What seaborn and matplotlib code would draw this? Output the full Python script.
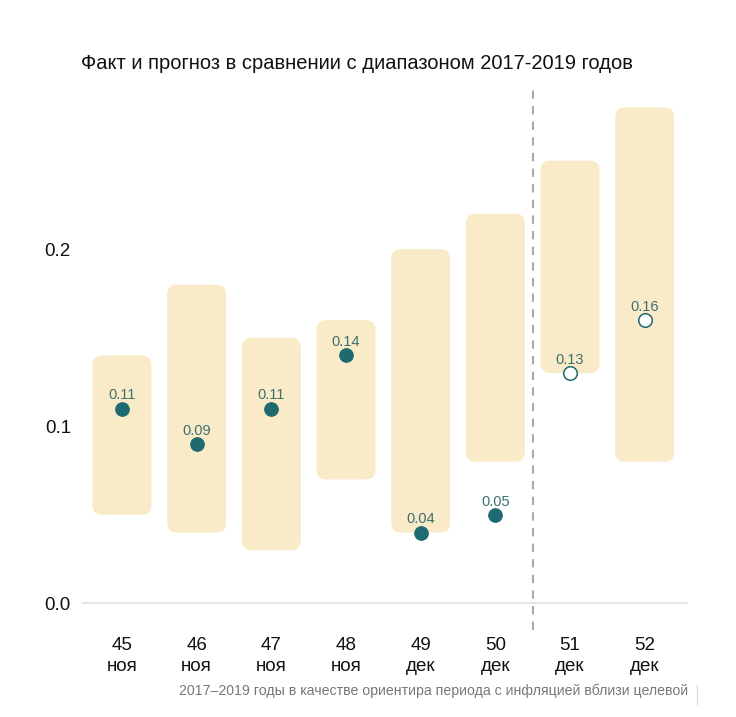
import matplotlib
matplotlib.use("Agg")
import matplotlib.pyplot as plt
from matplotlib.patches import FancyBboxPatch
from matplotlib.lines import Line2D
import seaborn as sns
import pandas as pd

weeks = ["45", "46", "47", "48", "49", "50", "51", "52"]
months = ["ноя", "ноя", "ноя", "ноя", "дек", "дек", "дек", "дек"]
range_low = [0.05, 0.04, 0.03, 0.07, 0.04, 0.08, 0.13, 0.08]
range_high = [0.14, 0.18, 0.15, 0.16, 0.20, 0.22, 0.25, 0.28]
fact = [0.11, 0.09, 0.11, 0.14, 0.04, 0.05]
forecast = [0.13, 0.16]

labels = [w + "\n" + m for w, m in zip(weeks, months)]
bars = pd.DataFrame({"week": labels, "low": range_low, "high": range_high})
bars["span"] = bars["high"] - bars["low"]
pts_fact = pd.DataFrame({"week": labels[:len(fact)], "val": fact})
pts_fc = pd.DataFrame({"week": labels[len(fact):], "val": forecast})

sns.set_style("white")
plt.rcParams["font.family"] = ["Liberation Sans", "DejaVu Sans"]

teal = "#1d6b70"
fig = plt.figure(figsize=(7.36, 7.17), dpi=100)
ax = fig.add_axes([0.1114, 0.1213, 0.8234, 0.756])

sns.barplot(data=bars, x="week", y="span", bottom=bars["low"], order=labels,
            color="#faebc8", width=0.79, errorbar=None, saturation=1, ax=ax)

# rounded corners
x_px = 74.7
y_px = 1770.0
for p in list(ax.patches):
    x, y, w, h = p.get_x(), p.get_y(), p.get_width(), p.get_height()
    r = 0.13
    fb = FancyBboxPatch((x + r, y + r * x_px / y_px), w - 2 * r, h - 2 * r * x_px / y_px,
                        boxstyle="round,pad=%f,rounding_size=%f" % (r, r),
                        mutation_aspect=x_px / y_px,
                        facecolor="#faebc8", edgecolor="none", zorder=1)
    p.remove()
    ax.add_patch(fb)

sns.scatterplot(data=pts_fact, x="week", y="val", color=teal, s=95,
                edgecolor=teal, linewidth=0.8, zorder=4, ax=ax)
sns.scatterplot(data=pts_fc, x="week", y="val", color="white", s=95,
                edgecolor=teal, linewidth=1.1, zorder=4, ax=ax)

for df in (pts_fact, pts_fc):
    for wk, v in zip(df["week"], df["val"]):
        ax.annotate("%.2f" % v, (labels.index(wk), v), xytext=(0, 4.5),
                    textcoords="offset points", ha="center", va="bottom",
                    fontsize=10.5, color="#3d7070", zorder=5)

ax.axhline(0, color="#e6e6e6", lw=1.5, zorder=0)
ax.axvline(5.5, color="#aaaaaa", lw=1.5, ls=(0, (4, 3.5)), zorder=2)

ax.set_xlim(-0.535, 7.58)
ax.set_ylim(-0.015, 0.291)
ax.set_yticks([0.0, 0.1, 0.2])
ax.set_yticklabels(["0.0", "0.1", "0.2"])
ax.tick_params(axis="both", length=0, labelsize=13.5, colors="#111111")
ax.tick_params(axis="y", pad=8)
ax.tick_params(axis="x", pad=5)
for t in ax.get_xticklabels():
    t.set_linespacing(1.3)
ax.set_xlabel("")
ax.set_ylabel("")
sns.despine(ax=ax, left=True, bottom=True)

fig.text(0.485, 0.912, "Факт и прогноз в сравнении с диапазоном 2017-2019 годов",
         ha="center", va="center", fontsize=14.5, color="#111111")
fig.text(0.935, 0.037, "2017–2019 годы в качестве ориентира периода с инфляцией вблизи целевой",
         ha="right", va="center", fontsize=10.2, color="#777777")
fig.add_artist(Line2D([0.947, 0.947], [0.018, 0.045], color="#dddddd", lw=1))

fig.savefig("out.png", dpi=100)
